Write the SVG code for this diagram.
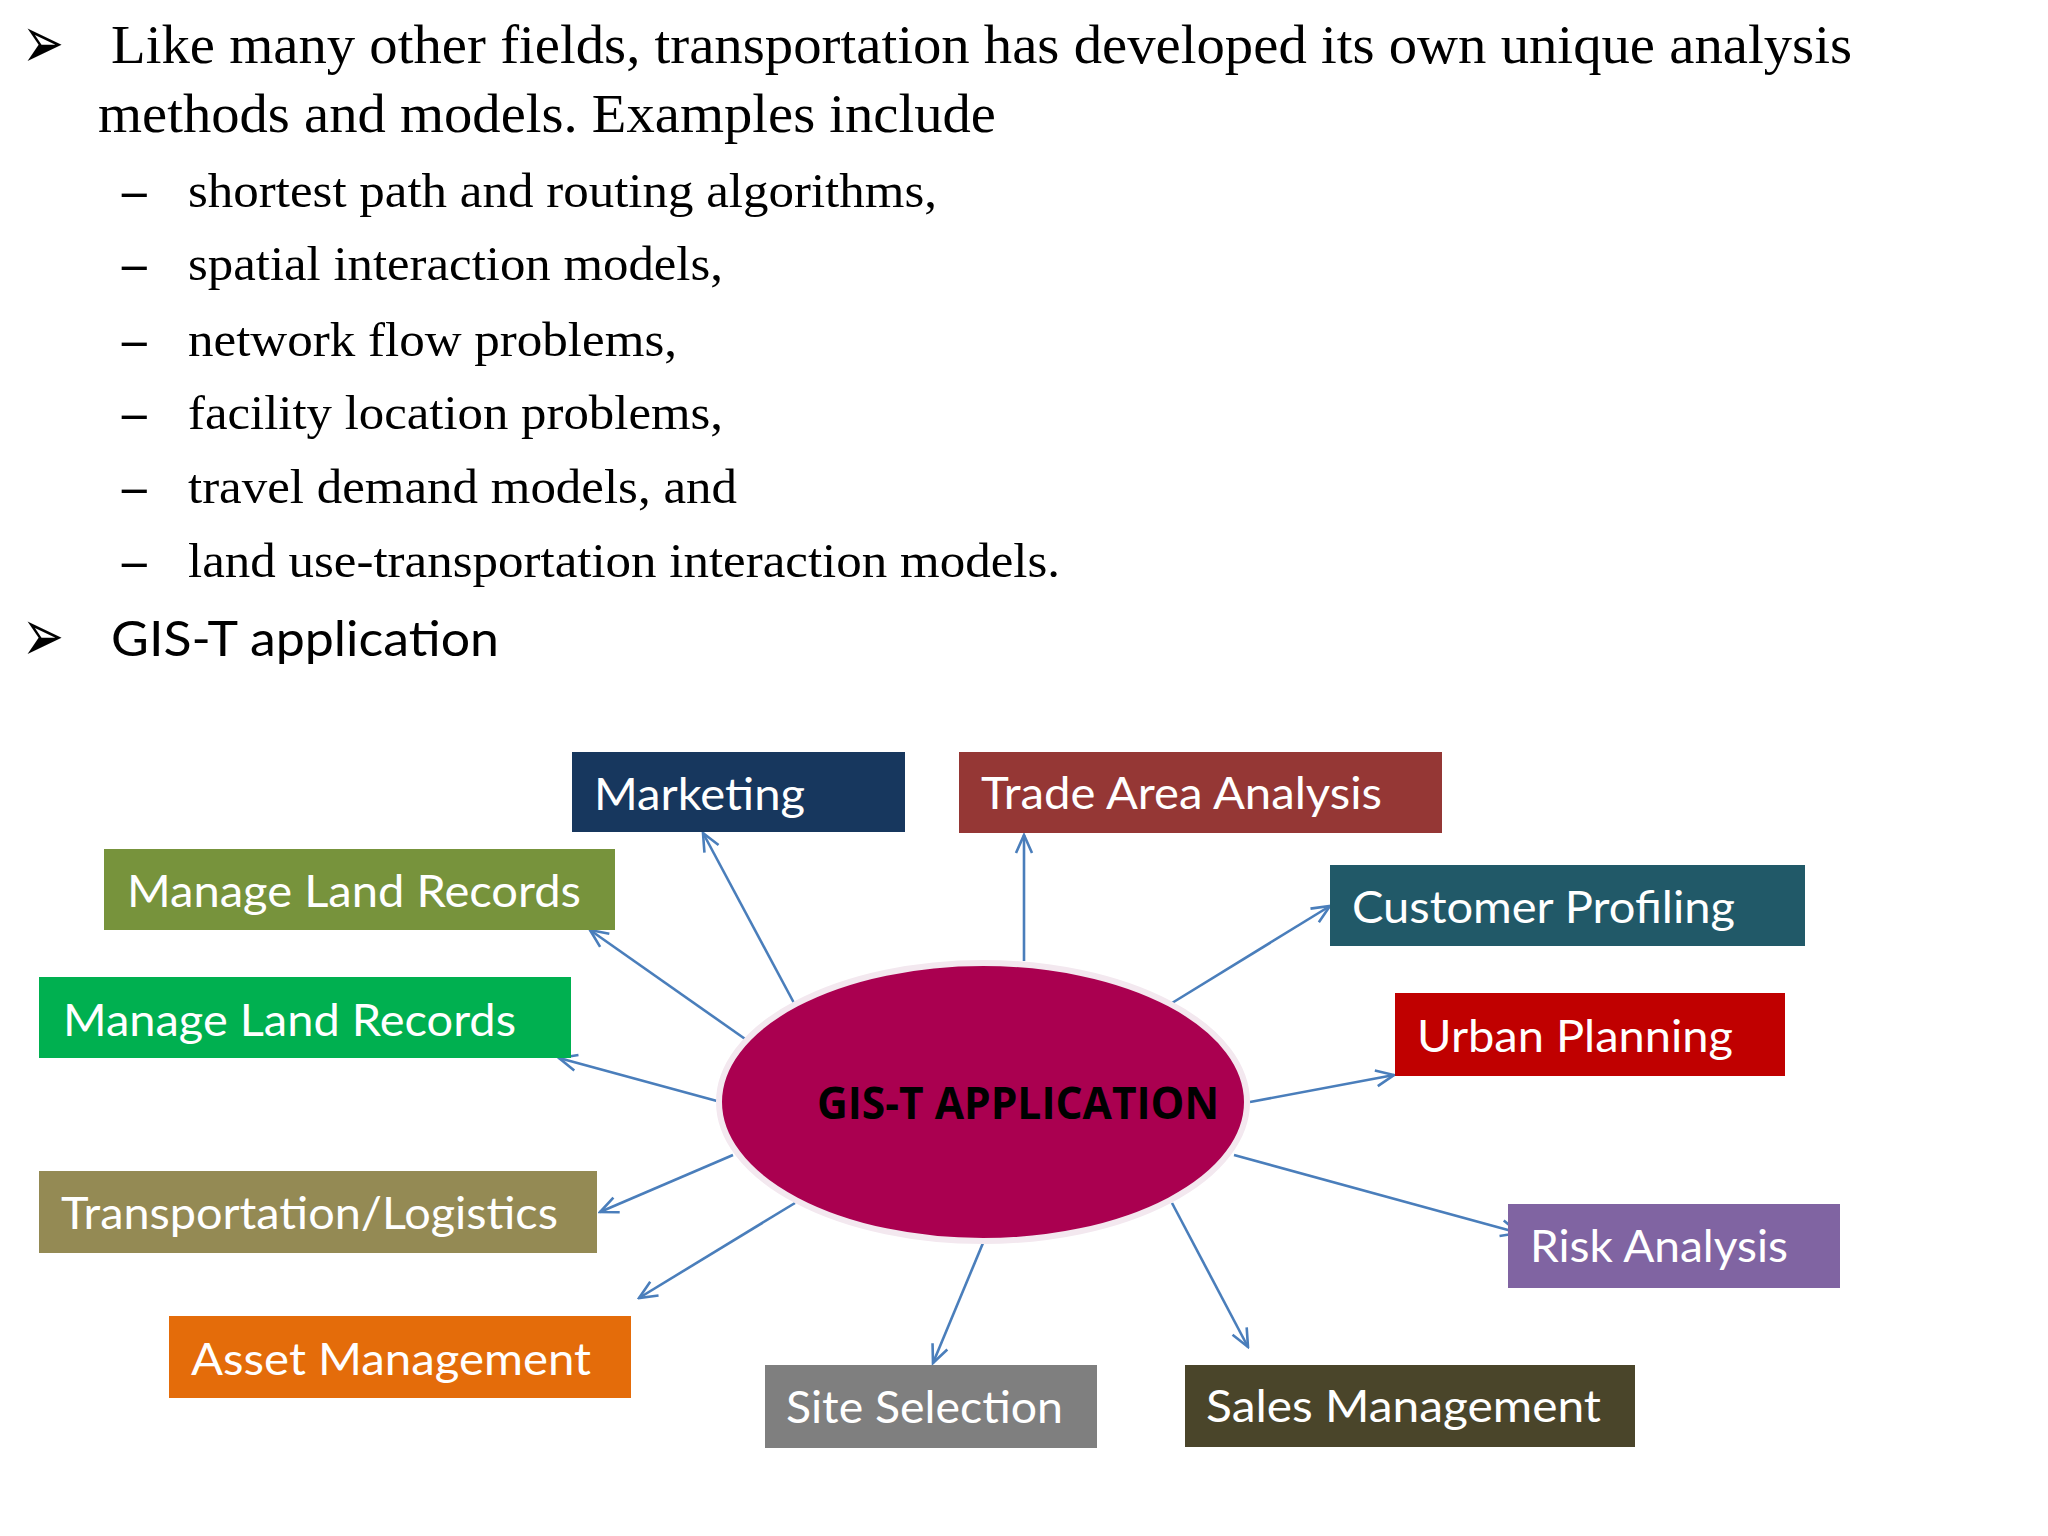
<svg xmlns="http://www.w3.org/2000/svg" width="2048" height="1536" viewBox="0 0 2048 1536">
<style>
.serif{font-family:"Liberation Serif","Times New Roman",serif;fill:#000}
.l1{font-size:55px}
.sub{font-size:49px}
.bul{font-family:"DejaVu Sans",sans-serif;font-size:74px;fill:#000}
.sans{font-family:Lato,"Open Sans","Liberation Sans",sans-serif}
.head{font-size:48px;fill:#000}
.lbl{font-size:44px;fill:#fff}
.conn{stroke:#4A7EBB;stroke-width:2.6;fill:none;marker-end:url(#arr)}
.center{font-family:"Open Sans",Lato,"Liberation Sans",sans-serif;font-weight:bold;font-size:44px;fill:#000}
</style>
<defs>
<marker id="arr" viewBox="0 0 22 22" refX="20" refY="11" markerWidth="22" markerHeight="22" markerUnits="userSpaceOnUse" orient="auto">
<path d="M2,3 L20,11 L2,19" fill="none" stroke="#4A7EBB" stroke-width="2.6"/>
</marker>
</defs>
<rect width="2048" height="1536" fill="#fff"/>

<g id="text-intro">
<text class="bul" x="22" y="68" textLength="42" lengthAdjust="spacingAndGlyphs">➢</text>
<text class="serif l1" x="111" y="63" textLength="1741" lengthAdjust="spacingAndGlyphs">Like many other fields, transportation has developed its own unique analysis</text>
<text class="serif l1" x="98" y="132" textLength="898" lengthAdjust="spacingAndGlyphs">methods and models. Examples include</text>
<text class="serif sub" x="122" y="207" font-weight="bold">–</text>
<text class="serif sub" x="188" y="207" textLength="749" lengthAdjust="spacingAndGlyphs">shortest path and routing algorithms,</text>
<text class="serif sub" x="122" y="280" font-weight="bold">–</text>
<text class="serif sub" x="188" y="280" textLength="535" lengthAdjust="spacingAndGlyphs">spatial interaction models,</text>
<text class="serif sub" x="122" y="356" font-weight="bold">–</text>
<text class="serif sub" x="188" y="356" textLength="489" lengthAdjust="spacingAndGlyphs">network flow problems,</text>
<text class="serif sub" x="122" y="429" font-weight="bold">–</text>
<text class="serif sub" x="188" y="429" textLength="535" lengthAdjust="spacingAndGlyphs">facility location problems,</text>
<text class="serif sub" x="122" y="503" font-weight="bold">–</text>
<text class="serif sub" x="188" y="503" textLength="549" lengthAdjust="spacingAndGlyphs">travel demand models, and</text>
<text class="serif sub" x="122" y="577" font-weight="bold">–</text>
<text class="serif sub" x="188" y="577" textLength="872" lengthAdjust="spacingAndGlyphs">land use-transportation interaction models.</text>
<text class="bul" x="22" y="661" textLength="42" lengthAdjust="spacingAndGlyphs">➢</text>
<text class="sans head" x="111" y="656" textLength="388" lengthAdjust="spacingAndGlyphs">GIS-T application</text>
</g>

<g id="connectors">
<line class="conn" x1="794" y1="1003" x2="703" y2="833"/>
<line class="conn" x1="1024" y1="961" x2="1024" y2="835"/>
<line class="conn" x1="748" y1="1041" x2="590" y2="930"/>
<line class="conn" x1="1172" y1="1003" x2="1330" y2="906"/>
<line class="conn" x1="717" y1="1101" x2="559" y2="1058"/>
<line class="conn" x1="1250" y1="1102" x2="1394" y2="1075"/>
<line class="conn" x1="733" y1="1155" x2="600" y2="1212"/>
<line class="conn" x1="1234" y1="1155" x2="1519" y2="1233"/>
<line class="conn" x1="795" y1="1203" x2="639" y2="1298"/>
<line class="conn" x1="983" y1="1243" x2="933" y2="1363"/>
<line class="conn" x1="1172" y1="1203" x2="1248" y2="1347"/>
</g>

<g id="center">
<ellipse cx="983" cy="1102" rx="264" ry="139" fill="#AA0050" stroke="#F3E8EF" stroke-width="6"/>
<text class="center" x="817" y="1119" textLength="402" lengthAdjust="spacingAndGlyphs">GIS-T APPLICATION</text>
</g>

<g id="marketing">
<rect x="572" y="752" width="333" height="80" fill="#17375E"/>
<text class="sans lbl" x="594" y="810" textLength="211" lengthAdjust="spacingAndGlyphs">Marketing</text>
</g>
<g id="trade-area-analysis">
<rect x="959" y="752" width="483" height="81" fill="#953735"/>
<text class="sans lbl" x="981" y="809" textLength="401" lengthAdjust="spacingAndGlyphs">Trade Area Analysis</text>
</g>
<g id="manage-land-records-1">
<rect x="104" y="849" width="511" height="81" fill="#77933C"/>
<text class="sans lbl" x="127" y="907" textLength="454" lengthAdjust="spacingAndGlyphs">Manage Land Records</text>
</g>
<g id="customer-profiling">
<rect x="1330" y="865" width="475" height="81" fill="#215968"/>
<text class="sans lbl" x="1352" y="923" textLength="383" lengthAdjust="spacingAndGlyphs">Customer Profiling</text>
</g>
<g id="manage-land-records-2">
<rect x="39" y="977" width="532" height="81" fill="#00B050"/>
<text class="sans lbl" x="63" y="1036" textLength="453" lengthAdjust="spacingAndGlyphs">Manage Land Records</text>
</g>
<g id="urban-planning">
<rect x="1395" y="993" width="390" height="83" fill="#C00000"/>
<text class="sans lbl" x="1417" y="1052" textLength="316" lengthAdjust="spacingAndGlyphs">Urban Planning</text>
</g>
<g id="transportation-logistics">
<rect x="39" y="1171" width="558" height="82" fill="#948A54"/>
<text class="sans lbl" x="61" y="1229" textLength="497" lengthAdjust="spacingAndGlyphs">Transportation/Logistics</text>
</g>
<g id="risk-analysis">
<rect x="1508" y="1204" width="332" height="84" fill="#8064A2"/>
<text class="sans lbl" x="1530" y="1262" textLength="258" lengthAdjust="spacingAndGlyphs">Risk Analysis</text>
</g>
<g id="asset-management">
<rect x="169" y="1316" width="462" height="82" fill="#E46C0A"/>
<text class="sans lbl" x="191" y="1375" textLength="400" lengthAdjust="spacingAndGlyphs">Asset Management</text>
</g>
<g id="site-selection">
<rect x="765" y="1365" width="332" height="83" fill="#7F7F7F"/>
<text class="sans lbl" x="786" y="1423" textLength="277" lengthAdjust="spacingAndGlyphs">Site Selection</text>
</g>
<g id="sales-management">
<rect x="1185" y="1365" width="450" height="82" fill="#4A452A"/>
<text class="sans lbl" x="1206" y="1422" textLength="395" lengthAdjust="spacingAndGlyphs">Sales Management</text>
</g>
</svg>
